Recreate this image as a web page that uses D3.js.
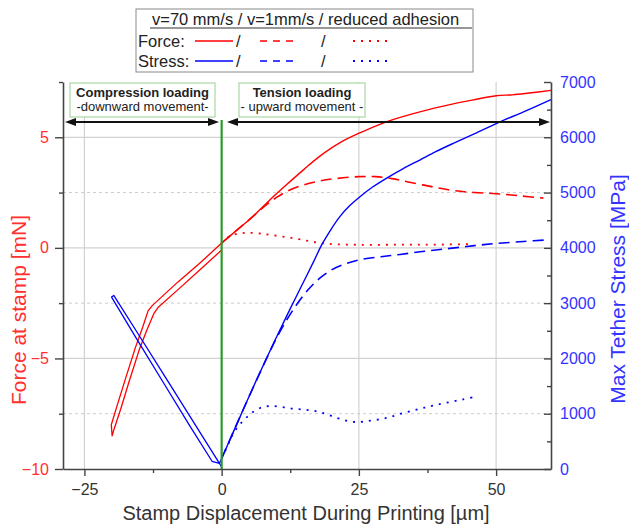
<!DOCTYPE html>
<html><head><meta charset="utf-8">
<script src="https://cdn.jsdelivr.net/npm/d3@7"></script>
<style>
body{margin:0;background:#fff;}
svg{display:block;font-family:"Liberation Sans",Arial,sans-serif;}
</style></head>
<body><svg id="c" width="629" height="526"></svg>
<script>
// ---- data ----
const xTicks = [-25, 0, 25, 50];
const xMinor = [-12.5, 12.5, 37.5];
const forceTicks = [-10, -5, 0, 5];
const forceMinor = [-7.5, -2.5, 2.5, 7.5];
const stressTicks = [0, 1000, 2000, 3000, 4000, 5000, 6000, 7000];
const stressMinor = [500, 1500, 2500, 3500, 4500, 5500, 6500];

// Force, v=70 mm/s: compression loop (0 -> -20 -> 0)
const forceLoop70 = [[0,-0.1],[-4,-1.0],[-8,-1.9],[-11.6,-2.7],[-12.3,-2.95],[-13.6,-3.7],[-15.0,-4.6],[-16.8,-6.0],[-18.4,-7.3],[-19.6,-8.2],[-19.95,-8.5],[-20.1,-8.0],[-19.0,-7.1],[-17.5,-5.9],[-15.7,-4.5],[-14.4,-3.6],[-13.4,-2.85],[-12.6,-2.6],[-8,-1.55],[-4,-0.7],[0,0.22]];
// Force, v=70 mm/s: tension
const forceTension70 = [[0,0.22],[3,0.85],[5.7,1.42],[8.5,2.1],[11.8,2.85],[15,3.55],[17.9,4.15],[21.5,4.75],[25.2,5.2],[30,5.7],[36.1,6.15],[42,6.5],[46,6.7],[50,6.88],[53,6.92],[56,7.0],[60,7.12]];
// Force, v=1 mm/s
const force1 = [[0,0.22],[3,0.85],[5.7,1.42],[8,1.92],[10,2.28],[12,2.57],[15,2.85],[18,3.03],[21,3.14],[25,3.22],[28,3.22],[31,3.13],[34,2.98],[38,2.78],[42,2.6],[46,2.5],[50,2.45],[54,2.36],[58.6,2.25]];
// Force, reduced adhesion
const forceRA = [[0,0.22],[1,0.45],[2,0.58],[3.5,0.66],[5,0.68],[7,0.65],[9,0.58],[12,0.48],[15,0.35],[18,0.22],[21,0.16],[25,0.14],[30,0.14],[35,0.15],[40,0.15],[46,0.17]];

// Stress, v=70 mm/s: compression loop
const stressLoop70 = [[0,40],[-5,830],[-10,1620],[-15,2410],[-19.65,3140],[-20.05,3110],[-15.4,2340],[-10.6,1560],[-5.8,780],[-1.75,140],[-0.4,100],[0,190]];
// Stress, v=70 mm/s: tension
const stressTension70 = [[0,190],[2,640],[4,1090],[6.3,1600],[8.5,2070],[10.5,2490],[12.5,2900],[14.5,3300],[16.8,3760],[18.2,4050],[19.7,4300],[21.5,4560],[23.3,4760],[25.2,4925],[27.5,5100],[30,5258],[33,5430],[36.1,5589],[39,5740],[42.2,5890],[46,6060],[50.4,6265],[55,6460],[60,6680]];
// Stress, v=1 mm/s
const stress1 = [[0,190],[2,640],[4,1090],[6,1530],[8,1960],[10,2370],[12,2720],[14,3020],[16,3270],[18,3460],[20,3600],[22.5,3710],[25.5,3790],[29,3840],[32.5,3880],[37,3940],[41.6,3990],[46,4040],[50.1,4080],[55,4115],[59.5,4145]];
// Stress, reduced adhesion
const stressRA = [[0,190],[1.2,450],[2.1,640],[3,770],[4,880],[5,975],[6,1050],[7.5,1120],[9,1140],[11,1120],[13,1090],[15,1075],[17,1050],[19,995],[21,925],[23,868],[24.8,848],[26.5,865],[28.5,895],[30.5,935],[32.5,995],[34.8,1055],[37,1110],[39,1158],[41.5,1210],[44,1260],[46.1,1305]];

// ---- drawing ----
const svg = d3.select("#c");
const L = 63, R = 551, T = 82, B = 469;
const x = d3.scaleLinear().domain([-28.9, 60]).range([L, R]);
const yF = d3.scaleLinear().domain([-10, 7.5]).range([B, T]);
const yS = d3.scaleLinear().domain([0, 7000]).range([B, T]);
const RED = "#ff0000", BLUE = "#0000ff";

// grid
const g = svg.append("g");
[-25, 25, 50].forEach(v => g.append("line").attr("x1", x(v)).attr("x2", x(v)).attr("y1", T).attr("y2", B).attr("stroke", "#d2d2d2").attr("stroke-width", 1.2));
[5, 0, -5].forEach(v => g.append("line").attr("x1", L).attr("x2", R).attr("y1", yF(v)).attr("y2", yF(v)).attr("stroke", "#d2d2d2").attr("stroke-width", 1.2));
[2.5, -2.5, -7.5].forEach(v => g.append("line").attr("x1", L).attr("x2", R).attr("y1", yF(v)).attr("y2", yF(v)).attr("stroke", "#cccccc").attr("stroke-width", 1).attr("stroke-dasharray", "3,3"));

// curves
const lineF = d3.line().x(d => x(d[0])).y(d => yF(d[1])).curve(d3.curveCatmullRom.alpha(0.5));
const lineS = d3.line().x(d => x(d[0])).y(d => yS(d[1])).curve(d3.curveCatmullRom.alpha(0.5));
const loopF = d3.line().x(d => x(d[0])).y(d => yF(d[1]));
const loopS = d3.line().x(d => x(d[0])).y(d => yS(d[1]));
function draw(data, gen, color, dash, w) {
  svg.append("path").attr("d", gen(data)).attr("fill", "none").attr("stroke", color)
    .attr("stroke-width", w).attr("stroke-dasharray", dash).attr("stroke-linejoin", "round");
}
draw(forceRA, lineF, RED, "2,6", 1.8);
draw(stressRA, lineS, BLUE, "2,6", 1.8);
draw(force1, lineF, RED, "11,6", 1.6);
draw(stress1, lineS, BLUE, "11,6", 1.6);
draw(forceLoop70, loopF, RED, null, 1.3);
draw(forceTension70, lineF, RED, null, 1.4);
draw(stressLoop70, loopS, BLUE, null, 1.3);
draw(stressTension70, lineS, BLUE, null, 1.4);

// green zero line
svg.append("line").attr("x1", x(0)).attr("x2", x(0)).attr("y1", 120).attr("y2", B).attr("stroke", "#2a9a2a").attr("stroke-width", 2.2);

// axes
const axCol = "#444";
function styleAxis(sel) {
  sel.select(".domain").attr("stroke", axCol).attr("stroke-width", 1.6);
  sel.selectAll(".tick line").attr("stroke", axCol).attr("stroke-width", 1.4);
  sel.selectAll("text").attr("font-size", 16).attr("font-family", "Liberation Sans, Arial, sans-serif");
}
const ax1 = svg.append("g").attr("transform", `translate(0,${B})`)
  .call(d3.axisBottom(x).tickValues(xTicks).tickFormat(d3.format("d")).tickSize(7).tickSizeOuter(0).tickPadding(8));
styleAxis(ax1); ax1.selectAll("text").attr("fill", "#333");
const ax1m = svg.append("g").attr("transform", `translate(0,${B})`)
  .call(d3.axisBottom(x).tickValues(xMinor).tickSize(4).tickFormat(""));
styleAxis(ax1m); ax1m.select(".domain").remove();

const ax2 = svg.append("g").attr("transform", `translate(${L},0)`)
  .call(d3.axisLeft(yF).tickValues(forceTicks).tickFormat(d3.format("d")).tickSize(8).tickSizeOuter(0).tickPadding(6));
styleAxis(ax2); ax2.selectAll("text").attr("fill", "#ff3030");
const ax2m = svg.append("g").attr("transform", `translate(${L},0)`)
  .call(d3.axisLeft(yF).tickValues(forceMinor).tickSize(4).tickFormat(""));
styleAxis(ax2m); ax2m.select(".domain").remove();

const ax3 = svg.append("g").attr("transform", `translate(${R},0)`)
  .call(d3.axisRight(yS).tickValues(stressTicks).tickFormat(d3.format("d")).tickSizeInner(-7).tickSizeOuter(0).tickPadding(9));
styleAxis(ax3); ax3.selectAll("text").attr("fill", "#3333ff");
const ax3m = svg.append("g").attr("transform", `translate(${R},0)`)
  .call(d3.axisRight(yS).tickValues(stressMinor).tickSizeInner(-4).tickFormat(""));
styleAxis(ax3m); ax3m.select(".domain").remove();

// axis titles
svg.append("text").attr("x", 306).attr("y", 520).attr("text-anchor", "middle").attr("font-size", 20).attr("fill", "#333")
  .text("Stamp Displacement During Printing [µm]");
svg.append("text").attr("transform", "translate(26,310) rotate(-90)").attr("text-anchor", "middle").attr("font-size", 21).attr("fill", "#ff3030")
  .text("Force at stamp [mN]");
svg.append("text").attr("transform", "translate(625,289) rotate(-90)").attr("text-anchor", "middle").attr("font-size", 21).attr("fill", "#3333ff")
  .text("Max Tether Stress [MPa]");

// arrows
function arrow(x1, x2, y) {
  svg.append("line").attr("x1", x1 + 6).attr("x2", x2 - 6).attr("y1", y).attr("y2", y).attr("stroke", "#111").attr("stroke-width", 2);
  svg.append("path").attr("d", `M${x1},${y} L${x1 + 11},${y - 4} L${x1 + 11},${y + 4} Z`).attr("fill", "#111");
  svg.append("path").attr("d", `M${x2},${y} L${x2 - 11},${y - 4} L${x2 - 11},${y + 4} Z`).attr("fill", "#111");
}
arrow(65, 219, 122);
arrow(227, 550, 122);

// annotation boxes
function box(x0, w, t1, t2) {
  svg.append("rect").attr("x", x0).attr("y", 83).attr("width", w).attr("height", 34).attr("fill", "#fff").attr("stroke", "#a9d8a2").attr("stroke-width", 1.2);
  svg.append("text").attr("x", x0 + w / 2).attr("y", 97).attr("text-anchor", "middle").attr("font-size", 13).attr("font-weight", "bold").attr("fill", "#222").text(t1);
  svg.append("text").attr("x", x0 + w / 2).attr("y", 111).attr("text-anchor", "middle").attr("font-size", 13).attr("fill", "#222").text(t2);
}
box(70, 145, "Compression loading", "-downward movement-");
box(239, 126, "Tension loading", "- upward movement -");

// legend
const lg = svg.append("g");
lg.append("rect").attr("x", 136).attr("y", 9).attr("width", 337).attr("height", 63).attr("fill", "#fff").attr("stroke", "#8a8a8a").attr("stroke-width", 1);
lg.append("text").attr("x", 152).attr("y", 25).attr("font-size", 16.5).attr("fill", "#222").text("v=70 mm/s / v=1mm/s / reduced adhesion");
lg.append("line").attr("x1", 150).attr("x2", 472).attr("y1", 28).attr("y2", 28).attr("stroke", "#333").attr("stroke-width", 1.2);
const rows = [["Force:", RED, 41, 47], ["Stress:", BLUE, 61, 67]];
rows.forEach(([lab, col, ly, ty]) => {
  lg.append("text").attr("x", 138).attr("y", ty).attr("font-size", 16.5).attr("fill", "#222").text(lab);
  lg.append("line").attr("x1", 195).attr("x2", 233).attr("y1", ly).attr("y2", ly).attr("stroke", col).attr("stroke-width", 1.6);
  lg.append("text").attr("x", 236).attr("y", ty).attr("font-size", 16.5).attr("fill", "#222").text("/");
  lg.append("line").attr("x1", 260).attr("x2", 294).attr("y1", ly).attr("y2", ly).attr("stroke", col).attr("stroke-width", 1.6).attr("stroke-dasharray", "7,6");
  lg.append("text").attr("x", 321).attr("y", ty).attr("font-size", 16.5).attr("fill", "#222").text("/");
  lg.append("line").attr("x1", 353).attr("x2", 389).attr("y1", ly).attr("y2", ly).attr("stroke", col).attr("stroke-width", 1.8).attr("stroke-dasharray", "2,6");
});
</script></body></html>
